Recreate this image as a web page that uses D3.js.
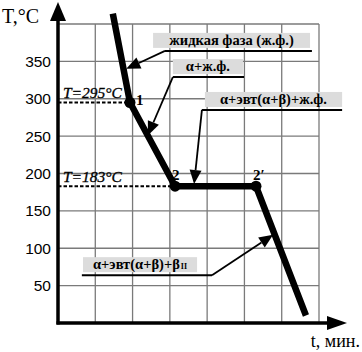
<!DOCTYPE html>
<html><head><meta charset="utf-8">
<script src="https://cdn.jsdelivr.net/npm/d3@7"></script>
<style>
html,body{margin:0;padding:0;background:#fff;}
svg{display:block;}
</style></head>
<body>
<svg id="chart" width="362" height="352"></svg>
<script>
// ---- data ----
const times = [1.47, 1.93, 3.14, 5.31, 6.65];      // grid units of time
const temps = [414, 295, 183, 183, 10];            // °C
const pointIdx = [1, 2, 3];
const pointLabels = ["1", "2", "2\u2032"];
const yTicks = [50, 100, 150, 200, 250, 300, 350];
const yGrid = [50, 100, 150, 200, 250, 300, 350, 400];
const xGrid = [1, 2, 3, 4, 5, 6, 7];
const levelTemps = [295, 183];
const levelLabels = ["T=295°C", "T=183°C"];
const annTexts = ["жидкая фаза (ж.ф.)", "α+ж.ф.", "α+эвт(α+β)+ж.ф.", "α+эвт(α+β)+β"];
// annotation geometry in data units
const annBox = [[2.55, 6.76], [3.08, 4.96], [3.94, 7.62], [0.67, 3.73]];
const annLineT = [364, 329, 285, 64];
const annLine = [[2.87, 6.81], [3.08, 4.99], [3.86, 7.62], [0.64, 4.13]];
const annFromEnd = [0, 0, 0, 1];
const annTip = [[1.83, 340], [2.41, 251], [3.65, 186], [5.77, 118]];

const svg = d3.select("#chart");
const x = d3.scaleLinear().domain([0, 7]).range([58, 319]);
const y = d3.scaleLinear().domain([0, 400]).range([323, 24]);

// grid
svg.append("g")
  .selectAll("line").data(yGrid).join("line")
  .attr("x1", x(0)).attr("x2", x(7)).attr("y1", d => y(d)).attr("y2", d => y(d))
  .attr("stroke", "#7a7a7a").attr("stroke-width", 1.3);
svg.append("g")
  .selectAll("line").data(xGrid).join("line")
  .attr("x1", d => x(d)).attr("x2", d => x(d)).attr("y1", y(0)).attr("y2", y(400))
  .attr("stroke", "#7a7a7a").attr("stroke-width", 1.3);

// y tick labels via axis
const yAxis = d3.axisLeft(y).tickValues(yTicks).tickSize(0).tickPadding(7);
const ga = svg.append("g").attr("transform", `translate(${x(0)},0)`).call(yAxis);
ga.select(".domain").remove();
ga.selectAll("text").attr("font-family", "Liberation Sans, Arial, sans-serif")
  .attr("font-size", 15.5).attr("fill", "#000");

// axes with arrows
svg.append("line").attr("x1", x(0)).attr("x2", x(0)).attr("y1", y(0) + 1.5).attr("y2", 18)
  .attr("stroke", "#000").attr("stroke-width", 3.5);
svg.append("path").attr("d", `M${x(0)},2 L${x(0) - 8},21 L${x(0) + 8},21 Z`).attr("fill", "#000");
svg.append("line").attr("x1", x(0) - 1.5).attr("x2", 330).attr("y1", y(0)).attr("y2", y(0))
  .attr("stroke", "#000").attr("stroke-width", 3.5);
svg.append("path").attr("d", `M347,${y(0)} L327,${y(0) - 7} L327,${y(0) + 7} Z`).attr("fill", "#000");

// axis titles
svg.append("text").attr("x", 2).attr("y", 23).text("T,°C")
  .attr("font-family", "Liberation Serif, Times New Roman, serif").attr("font-size", 20);
svg.append("text").attr("x", 360).attr("y", 347).attr("text-anchor", "end").text("t, мин.")
  .attr("font-family", "Liberation Serif, Times New Roman, serif").attr("font-size", 18);

// dashed level lines
levelTemps.forEach((T, i) => {
  const idx = temps.indexOf(T);
  svg.append("line").attr("x1", x(0)).attr("x2", x(times[idx])).attr("y1", y(T)).attr("y2", y(T))
    .attr("stroke", "#000").attr("stroke-width", 2).attr("stroke-dasharray", "3.5,2");
  svg.append("text").attr("x", x(0) + 5).attr("y", y(T) - 4).text(levelLabels[i])
    .attr("font-family", "Liberation Serif, Times New Roman, serif").attr("font-style", "italic")
    .attr("font-size", 15.5).attr("stroke", "#000").attr("stroke-width", 0.3);
});

// cooling curve
const pts = times.map((t, i) => [t, temps[i]]);
svg.append("path").datum(pts)
  .attr("d", d3.line().x(d => x(d[0])).y(d => y(d[1])))
  .attr("fill", "none").attr("stroke", "#000").attr("stroke-width", 6.5)
  .attr("stroke-linejoin", "round");
svg.selectAll("circle.pt").data(pointIdx).join("circle")
  .attr("cx", i => x(times[i])).attr("cy", i => y(temps[i])).attr("r", 5.5).attr("fill", "#000");
const plOff = [[6, 3], [-3, -6], [-3, -6]];
svg.selectAll("text.pl").data(pointIdx).join("text")
  .attr("x", (i, k) => x(times[i]) + plOff[k][0]).attr("y", (i, k) => y(temps[i]) + plOff[k][1])
  .text((i, k) => pointLabels[k])
  .attr("font-family", "Liberation Serif, Times New Roman, serif").attr("font-weight", "bold")
  .attr("font-size", 15);

// annotations
annTexts.forEach((txt, i) => {
  const uy = y(annLineT[i]);
  const bx0 = x(annBox[i][0]), bx1 = x(annBox[i][1]);
  const g = svg.append("g");
  g.append("rect").attr("x", bx0).attr("y", uy - 18).attr("width", bx1 - bx0).attr("height", 15)
    .attr("fill", "#dcdcdc");
  const t = g.append("text").attr("x", (bx0 + bx1) / 2).attr("y", uy - 6).attr("text-anchor", "middle")
    .attr("font-family", "Liberation Serif, Times New Roman, serif").attr("font-weight", "bold")
    .attr("font-size", 14.5).text(txt);
  if (i === 3) {
    t.append("tspan").attr("font-size", 8).attr("dx", 1).text("II");
  }
  const lx0 = x(annLine[i][0]), lx1 = x(annLine[i][1]);
  g.append("line").attr("x1", lx0).attr("x2", lx1).attr("y1", uy).attr("y2", uy)
    .attr("stroke", "#000").attr("stroke-width", 2);
  const sx = annFromEnd[i] ? lx1 : lx0;
  const tx = x(annTip[i][0]), ty = y(annTip[i][1]);
  const ang = Math.atan2(ty - uy, tx - sx);
  const L = 14, W = 6;
  const bxp = tx - L * Math.cos(ang), byp = ty - L * Math.sin(ang);
  g.append("line").attr("x1", sx).attr("y1", uy).attr("x2", bxp).attr("y2", byp)
    .attr("stroke", "#000").attr("stroke-width", 1.8);
  const px = -Math.sin(ang) * W, py = Math.cos(ang) * W;
  g.append("path").attr("d", `M${tx},${ty} L${bxp + px},${byp + py} L${bxp - px},${byp - py} Z`)
    .attr("fill", "#000");
});
</script>
</body></html>
